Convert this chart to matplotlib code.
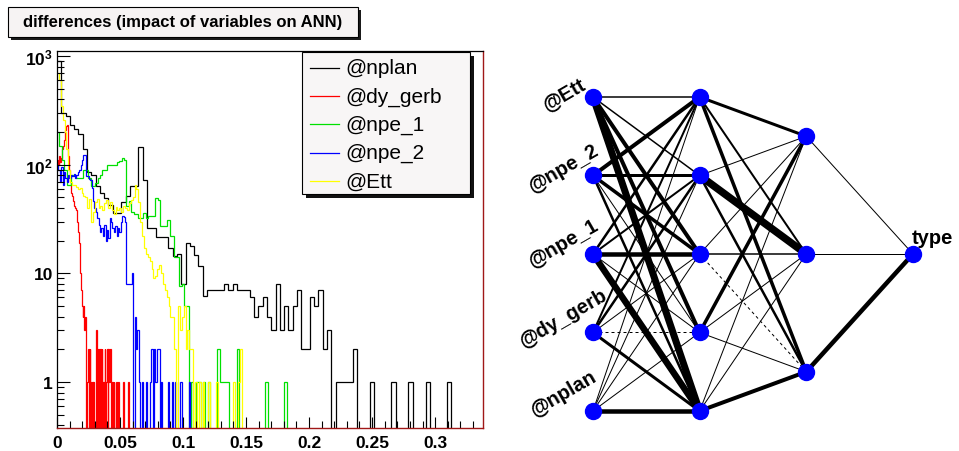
import numpy as np
import matplotlib
matplotlib.use('Agg')
import matplotlib.pyplot as plt
from matplotlib.patches import Rectangle
from matplotlib.lines import Line2D
from matplotlib.ticker import FixedLocator, LogLocator, NullFormatter

plt.rcParams['font.family'] = ['Liberation Sans', 'DejaVu Sans']
plt.rcParams['mathtext.fontset'] = 'custom'
plt.rcParams['mathtext.rm'] = 'Liberation Sans'
plt.rcParams['mathtext.bf'] = 'Liberation Sans:bold'

# ---------------- data ----------------
title = 'differences (impact of variables on ANN)'
series_names = ['@nplan', '@dy_gerb', '@npe_1', '@npe_2', '@Ett']
series_colors = ['#000000', '#ff0000', '#00e000', '#0000ff', '#ffff00']
# each histogram: 100 bins from 0 to its own upper edge
series_xmax = [0.34, 0.06, 0.19, 0.11, 0.15]

nplan_counts = [900, 300, 280, 230, 215, 190, 140, 85, 80, 64,
                55, 49, 43, 36, 36, 45, 52, 64, 64, 144,
                73, 26, 26, 21.6, 21.6, 21.6, 17, 14.4, 15, 8,
                19, 18, 14.6, 11.8, 6.2, 7, 7, 7, 7, 8,
                7, 8, 7, 7, 7, 6, 4, 5, 6, 4,
                3, 8, 3, 5, 3, 5, 7, 2, 2, 6,
                5, 7, 2, 3, 0, 1, 1, 1, 1, 2,
                0, 0, 0, 1, 0, 0, 0, 0, 1, 0,
                0, 0, 1, 0, 0, 0, 1, 0, 0, 0,
                0, 1, 0, 0, 0, 0, 0, 0, 0, 0]

dy_gerb_counts = [95, 110, 100, 120, 105, 115, 125, 140, 150, 170,
                  190, 210, 225, 230, 160, 120, 90, 70, 60, 55,
                  52, 46, 44, 42, 40, 38, 37, 30, 24, 19,
                  16, 10, 7, 5, 4, 5, 3, 4, 2, 0,
                  1, 2, 0, 2, 1, 0, 1, 0, 1, 0,
                  0, 1, 3, 0, 2, 2, 0, 2, 0, 2,
                  0, 1, 0, 2, 0, 1, 2, 0, 2, 1,
                  2, 0, 0, 1, 0, 1, 0, 0, 1, 0,
                  0, 1, 0, 0, 0, 0, 0, 1, 0, 0,
                  0, 0, 0, 0, 1, 0, 0, 0, 0, 0]

npe_1_counts = [200, 150, 110, 90, 65, 65, 80, 80, 75, 75,
                75, 90, 90, 75, 64, 64, 68, 75, 80, 90,
                90, 100, 100, 100, 100, 105, 108, 115, 110, 42,
                46, 37, 35, 35, 32, 32, 36, 32, 34, 34,
                34, 49, 47, 27, 27, 27, 31, 22, 22, 14,
                14, 7.6, 8, 5, 5, 0, 1, 0, 1, 1,
                0, 1, 0, 1, 0, 0, 0, 2, 1, 1,
                1, 1, 0, 0, 0, 2, 0, 0, 0, 0,
                0, 0, 0, 0, 0, 0, 0, 1, 0, 0,
                0, 0, 0, 0, 0, 1, 0, 0, 0, 0]

npe_2_counts = [100, 90, 70, 95, 65, 85, 75, 70, 80, 75,
                80, 78, 82, 76, 80, 85, 90, 100, 110, 123,
                123, 78, 78, 74, 72, 61, 46, 40, 37, 32,
                28, 24, 26, 22, 28, 20, 25, 21, 32, 30,
                26, 24, 27, 22, 26, 24, 30, 34, 33, 30,
                8, 8, 8, 8, 10, 0, 4, 2, 3, 1,
                0, 1, 0, 0, 1, 0, 0, 1, 2, 0,
                2, 1, 2, 2, 0, 1, 0, 0, 0, 0,
                1, 0, 0, 1, 0, 1, 0, 0, 0, 1,
                0, 0, 0, 0, 0, 1, 0, 0, 0, 0]

ett_counts = [700, 600, 350, 260, 200, 140, 90, 70, 65, 65,
              62, 60, 61, 55, 52, 50, 40, 48, 30, 37,
              45, 48, 40, 42, 38, 44, 47, 40, 45, 38,
              35, 41, 38, 40, 37, 42, 40, 38, 44, 47,
              50, 65, 60, 45, 30, 22, 17, 15, 14, 13,
              11, 9, 9.5, 11, 12, 10, 8, 7, 6, 5,
              4, 4, 2, 0, 5, 3, 4, 5, 2, 3,
              2, 2, 0, 1, 0, 1, 0, 1, 0, 0,
              1, 0, 0, 0, 1, 0, 0, 0, 0, 0,
              0, 0, 0, 1, 0, 0, 1, 2, 0, 0]

all_counts = [nplan_counts, dy_gerb_counts, npe_1_counts, npe_2_counts, ett_counts]

x_tick_values = [0, 0.05, 0.1, 0.15, 0.2, 0.25, 0.3]
x_tick_labels = ['0', '0.05', '0.1', '0.15', '0.2', '0.25', '0.3']
y_tick_values = [1, 10, 100, 1000]
y_tick_labels = ['1', '10', r'$\mathbf{10^{2}}$', r'$\mathbf{10^{3}}$']

# network: input names (top to bottom), layer sizes, synapse strengths (negative = dashed)
input_names = ['@Ett', '@npe_2', '@npe_1', '@dy_gerb', '@nplan']
output_name = 'type'
layer_sizes = [5, 5, 3, 1]
w_in_h1 = [[1.5, 1.5, 4, 4, 7],
           [4, 3, 3.5, 1, 2.5],
           [2.5, 2, 4.5, 1, 6.5],
           [2, 2.5, 1, -1, 3],
           [1, 1, 1, 1, 4.5]]
w_h1_h2 = [[3, 2, 3.5],
           [1, 7.5, 2.5],
           [1, 1.5, -1],
           [3.5, 1, 1],
           [1, 1, 4]]
w_h2_out = [[1], [1], [4.5]]

# ---------------- figure ----------------
W, H = 959, 452
fig = plt.figure(figsize=(W / 100, H / 100), dpi=100)
fig.patch.set_facecolor('white')

# histogram axes (pixel frame 57..483 x 52..429)
ax = fig.add_axes([57 / W, 1 - 429 / H, (483 - 57) / W, (429 - 52) / H])
ax.set_yscale('log')
ax.set_xlim(0, 0.338)
ax.set_ylim(0.3776, 1112)

for counts, xmax, col in zip(all_counts, series_xmax, series_colors):
    c = np.asarray(counts, dtype=float)
    edges = np.linspace(0, xmax, len(c) + 1)
    vals = np.where(c > 0, c, 1e-3)
    ax.stairs(vals, edges, color=col, lw=0.9, baseline=None)

for s in ['left', 'top']:
    ax.spines[s].set_color('black')
    ax.spines[s].set_linewidth(0.9)
for s in ['right', 'bottom']:
    ax.spines[s].set_color('#a01818')
    ax.spines[s].set_linewidth(1.0)

ax.xaxis.set_major_locator(FixedLocator(x_tick_values))
ax.set_xticklabels(x_tick_labels, fontsize=12.5, fontweight='bold')
ax.xaxis.set_minor_locator(FixedLocator(np.arange(0, 0.335, 0.01)))
ax.yaxis.set_major_locator(FixedLocator(y_tick_values))
ax.set_yticklabels(y_tick_labels, fontsize=12.5, fontweight='bold')
ax.yaxis.set_minor_locator(LogLocator(base=10, subs=np.arange(2, 10)))
ax.yaxis.set_minor_formatter(NullFormatter())
ax.tick_params(axis='x', which='major', direction='in', length=8, width=0.8, pad=5)
ax.tick_params(axis='x', which='minor', direction='in', length=5, width=0.8)
ax.tick_params(axis='y', which='major', direction='in', length=9.5, width=0.8, pad=3)
ax.tick_params(axis='y', which='minor', direction='in', length=5, width=0.8)

# overlay in pixel coordinates for title box and legend
ov = fig.add_axes([0, 0, 1, 1], zorder=5)
ov.set_xlim(0, W)
ov.set_ylim(H, 0)
ov.axis('off')

ov.add_patch(Rectangle((11, 11), 350, 30, facecolor='#1a1a1a', edgecolor='none'))
ov.add_patch(Rectangle((8, 8), 350, 30, facecolor='#f6f3f3', edgecolor='black', lw=0.8))
ov.text(183, 23, title, ha='center', va='center', fontsize=12, fontweight='bold')

ov.add_patch(Rectangle((306, 57), 168, 142, facecolor='#111111', edgecolor='none'))
ov.add_patch(Rectangle((302, 53), 168, 142, facecolor='#f8f6f6', edgecolor='black', lw=0.8))
for i, (name, col) in enumerate(zip(series_names, series_colors)):
    yy = 69 + 28.2 * i
    ov.add_line(Line2D([310, 339], [yy, yy], color=col, lw=0.9))
    ov.text(345, yy, name, ha='left', va='center', fontsize=15)

# network diagram
axn = fig.add_axes([486.3 / W, 0, (W - 486.3) / W, 1], zorder=3)
axn.set_xlim(0, (W - 486.3) / 533.3)
axn.set_ylim((H - 19.5) / 471, -19.5 / 471)
axn.axis('off')

nl = len(layer_sizes)
def node_pos(l, i):
    return (l + 1) / (nl + 1), (i + 1) / (layer_sizes[l] + 1)

weights = [w_in_h1, w_h1_h2, w_h2_out]
for l, wm in enumerate(weights):
    for i, row in enumerate(wm):
        for j, w in enumerate(row):
            x0, y0 = node_pos(l, i)
            x1, y1 = node_pos(l + 1, j)
            ls = (0, (3, 3)) if w < 0 else '-'
            axn.plot([x0, x1], [y0, y1], color='black', lw=abs(w) * 0.72,
                     ls=ls, solid_capstyle='butt', zorder=1)

for l, n in enumerate(layer_sizes):
    for i in range(n):
        x, y = node_pos(l, i)
        axn.plot([x], [y], 'o', ms=11.5, color='#0000ff', mec='#0000ff', zorder=3)

label_top, label_step = 0.158, 0.159
for i, name in enumerate(input_names):
    x, _ = node_pos(0, i)
    axn.text(x - 0.0545, label_top + label_step * i, name, rotation=30,
             rotation_mode='anchor', ha='center', va='center',
             fontsize=14.5, fontweight='bold')

xo, yo = node_pos(nl - 1, 0)
axn.text(xo - 0.002, yo - 0.023, output_name, ha='left', va='baseline',
         fontsize=14.5, fontweight='bold')

fig.savefig('out.png', dpi=100)
